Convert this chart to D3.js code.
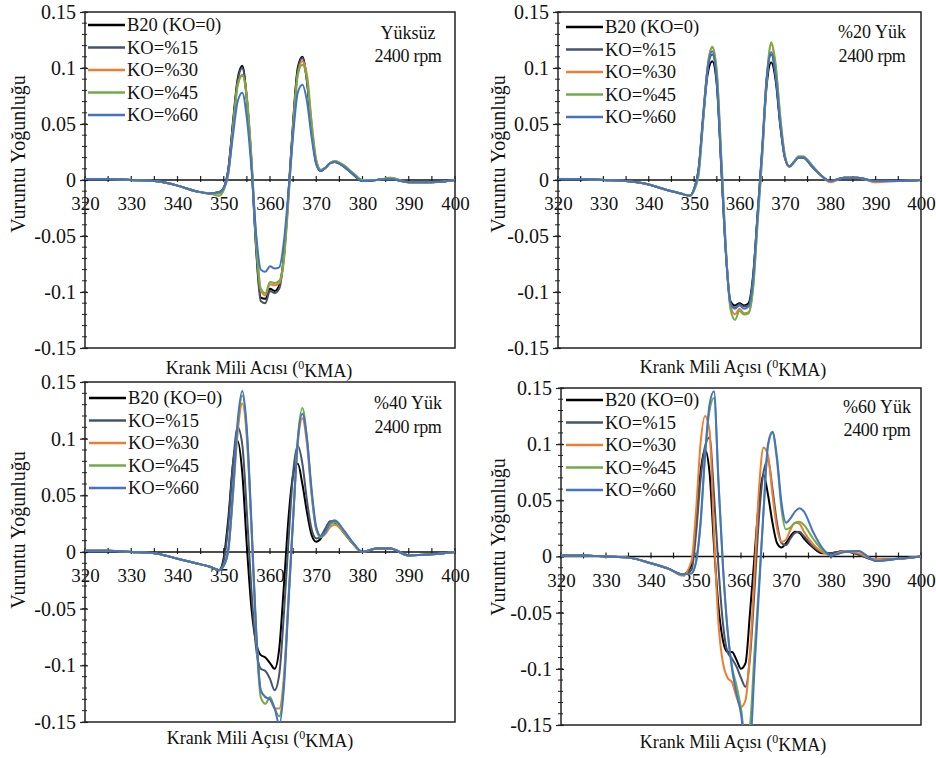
<!DOCTYPE html>
<html><head><meta charset="utf-8">
<script src="https://cdn.jsdelivr.net/npm/d3@7"></script>
<style>
body{margin:0;background:#fff}
svg{display:block}
text{font-family:"Liberation Serif","Times New Roman",serif;fill:#111}
</style>
</head><body><svg id="chart" width="936" height="758"></svg>
<script>
// ---------- DATA ----------
const angles = [320,325,330,335,340,344,347,349,350,351,352,353,354,355,356,357,358,359,360,361,362,363,364,365,366,367,368,369,370,371,372,373,374,376,378,380,383,386,390,395,400];

const seriesNames  = ['B20 (KO=0)','KO=%15','KO=%30','KO=%45','KO=%60'];
const seriesColors = ['#000000','#44546A','#ED7D31','#70AD47','#4472C4'];

const loadLabels = ['Yüksüz','%20 Yük','%40 Yük','%60 Yük'];
const speedLabel = '2400 rpm';
const yTitle = 'Vuruntu Yoğunluğu';
const xTitlePrefixes = ['Krank Mili Acısı (','Krank Mili Açısı (','Krank Mili Açısı (','Krank Mili Açısı ('];
const xTitleSup = '0';
const xTitleSuffix = 'KMA)';

const xTicks = [320,330,340,350,360,370,380,390,400];
const yTicks = [0.15,0.1,0.05,0,-0.05,-0.1,-0.15];
const yTickLabels = ['0.15','0.1','0.05','0','-0.05','-0.1','-0.15'];

// Panel 1: Yüksüz
const p1_B20 = [0.001,0.001,0.000,-0.001,-0.005,-0.010,-0.012,-0.011,-0.007,0.010,0.052,0.090,0.102,0.072,0.015,-0.060,-0.105,-0.106,-0.097,-0.099,-0.094,-0.068,-0.012,0.052,0.100,0.110,0.088,0.045,0.015,0.008,0.011,0.015,0.016,0.012,0.005,-0.001,0.000,0.001,-0.002,-0.002,0.000];
const p1_KO15 = [0.001,0.001,0.000,-0.001,-0.005,-0.010,-0.012,-0.011,-0.007,0.010,0.050,0.088,0.100,0.072,0.015,-0.062,-0.108,-0.110,-0.099,-0.101,-0.097,-0.068,-0.012,0.050,0.098,0.109,0.088,0.045,0.015,0.008,0.011,0.015,0.016,0.012,0.005,-0.001,0.000,0.001,-0.002,-0.002,0.000];
const p1_KO30 = [0.001,0.001,0.000,-0.001,-0.005,-0.010,-0.012,-0.012,-0.008,0.006,0.045,0.085,0.094,0.075,0.020,-0.052,-0.098,-0.103,-0.093,-0.094,-0.092,-0.072,-0.018,0.045,0.094,0.106,0.094,0.052,0.018,0.009,0.011,0.015,0.017,0.013,0.006,0.000,0.000,0.002,-0.002,-0.002,0.000];
const p1_KO45 = [0.001,0.001,0.000,-0.001,-0.005,-0.010,-0.012,-0.014,-0.009,0.006,0.046,0.084,0.093,0.072,0.017,-0.055,-0.097,-0.101,-0.091,-0.092,-0.090,-0.070,-0.015,0.047,0.094,0.103,0.090,0.050,0.017,0.009,0.011,0.015,0.017,0.013,0.006,0.000,0.000,0.002,-0.002,-0.002,0.000];
const p1_KO60 = [0.001,0.001,0.000,-0.001,-0.005,-0.010,-0.012,-0.011,-0.007,0.008,0.040,0.070,0.078,0.055,0.010,-0.048,-0.080,-0.082,-0.077,-0.079,-0.078,-0.055,-0.010,0.040,0.078,0.085,0.070,0.038,0.014,0.008,0.011,0.015,0.016,0.012,0.005,-0.001,0.000,0.001,-0.002,-0.002,0.000];

// Panel 2: %20 Yük
const p2_B20 = [0.001,0.001,0.000,-0.001,-0.004,-0.009,-0.012,-0.014,-0.008,0.010,0.055,0.095,0.106,0.085,0.010,-0.065,-0.108,-0.112,-0.110,-0.112,-0.110,-0.085,-0.030,0.025,0.085,0.105,0.088,0.048,0.020,0.012,0.016,0.020,0.020,0.012,0.004,-0.001,0.002,0.002,-0.001,-0.001,0.000];
const p2_KO15 = [0.001,0.001,0.000,-0.001,-0.004,-0.009,-0.012,-0.014,-0.008,0.010,0.058,0.100,0.112,0.090,0.012,-0.065,-0.110,-0.114,-0.111,-0.113,-0.112,-0.088,-0.030,0.028,0.090,0.112,0.092,0.050,0.020,0.012,0.016,0.020,0.020,0.012,0.004,-0.001,0.002,0.002,-0.001,-0.001,0.000];
const p2_KO30 = [0.001,0.001,0.000,-0.001,-0.004,-0.009,-0.012,-0.014,-0.009,0.006,0.055,0.102,0.118,0.095,0.018,-0.062,-0.112,-0.120,-0.115,-0.119,-0.118,-0.095,-0.036,0.022,0.090,0.121,0.100,0.055,0.022,0.012,0.016,0.021,0.021,0.013,0.004,-0.002,0.002,0.002,-0.002,-0.001,0.000];
const p2_KO45 = [0.001,0.001,0.000,-0.001,-0.004,-0.009,-0.012,-0.014,-0.009,0.005,0.053,0.102,0.119,0.097,0.020,-0.060,-0.115,-0.125,-0.117,-0.120,-0.119,-0.097,-0.038,0.020,0.090,0.123,0.102,0.056,0.022,0.012,0.016,0.021,0.021,0.013,0.004,-0.001,0.002,0.002,-0.001,-0.001,0.000];
const p2_KO60 = [0.001,0.001,0.000,-0.001,-0.004,-0.009,-0.012,-0.014,-0.008,0.010,0.058,0.100,0.115,0.088,0.012,-0.065,-0.110,-0.115,-0.112,-0.115,-0.113,-0.088,-0.030,0.028,0.092,0.114,0.092,0.050,0.020,0.012,0.016,0.020,0.020,0.012,0.004,-0.001,0.002,0.002,-0.001,-0.001,0.000];

// Panel 3: %40 Yük
const p3_B20 = [0.001,0.001,0.000,-0.001,-0.006,-0.010,-0.013,-0.016,-0.005,0.030,0.078,0.098,0.070,0.005,-0.050,-0.080,-0.091,-0.093,-0.098,-0.103,-0.085,-0.030,0.030,0.068,0.078,0.060,0.035,0.015,0.009,0.012,0.020,0.027,0.026,0.017,0.007,0.000,0.003,0.003,-0.003,-0.002,0.000];
const p3_KO15 = [0.001,0.001,0.000,-0.001,-0.006,-0.010,-0.013,-0.016,-0.008,0.025,0.078,0.110,0.095,0.035,-0.035,-0.085,-0.103,-0.105,-0.112,-0.122,-0.108,-0.055,0.010,0.070,0.094,0.078,0.045,0.020,0.012,0.014,0.021,0.027,0.027,0.018,0.007,0.000,0.003,0.003,-0.003,-0.002,0.000];
const p3_KO30 = [0.001,0.001,0.000,-0.001,-0.006,-0.010,-0.013,-0.016,-0.012,0.002,0.050,0.105,0.131,0.100,0.020,-0.070,-0.122,-0.128,-0.130,-0.138,-0.138,-0.110,-0.040,0.030,0.095,0.118,0.095,0.050,0.020,0.013,0.016,0.022,0.024,0.017,0.007,0.000,0.003,0.003,-0.003,-0.002,0.000];
const p3_KO45 = [0.001,0.001,0.000,-0.001,-0.006,-0.010,-0.013,-0.016,-0.012,0.002,0.052,0.110,0.138,0.105,0.022,-0.072,-0.128,-0.134,-0.128,-0.138,-0.145,-0.115,-0.042,0.030,0.100,0.127,0.100,0.052,0.020,0.013,0.017,0.024,0.026,0.018,0.007,0.000,0.003,0.003,-0.003,-0.002,0.000];
const p3_KO60 = [0.001,0.001,0.000,-0.001,-0.006,-0.010,-0.013,-0.016,-0.012,0.003,0.055,0.115,0.142,0.108,0.025,-0.068,-0.122,-0.128,-0.130,-0.138,-0.152,-0.120,-0.045,0.028,0.098,0.122,0.100,0.055,0.022,0.014,0.018,0.026,0.028,0.019,0.008,0.000,0.003,0.003,-0.003,-0.002,0.000];

// Panel 4: %60 Yük
const p4_B20 = [0.001,0.001,0.000,-0.001,-0.006,-0.011,-0.016,-0.008,0.030,0.075,0.095,0.075,0.010,-0.045,-0.075,-0.085,-0.085,-0.092,-0.100,-0.095,-0.050,0.000,0.050,0.073,0.055,0.030,0.012,0.008,0.012,0.018,0.022,0.021,0.016,0.008,0.003,0.003,0.005,0.002,-0.003,-0.002,0.000];
const p4_KO15 = [0.001,0.001,0.000,-0.001,-0.006,-0.011,-0.016,-0.012,0.020,0.068,0.098,0.106,0.055,-0.010,-0.060,-0.085,-0.091,-0.098,-0.108,-0.116,-0.090,-0.030,0.035,0.075,0.086,0.060,0.030,0.012,0.010,0.016,0.021,0.022,0.018,0.009,0.004,0.003,0.005,0.002,-0.003,-0.002,0.000];
const p4_KO30 = [0.001,0.001,0.000,-0.001,-0.006,-0.011,-0.017,-0.004,0.040,0.100,0.125,0.112,0.020,-0.060,-0.095,-0.108,-0.112,-0.125,-0.134,-0.128,-0.085,-0.015,0.060,0.097,0.090,0.055,0.025,0.013,0.015,0.024,0.030,0.029,0.022,0.011,0.004,0.001,0.005,0.003,-0.003,-0.002,0.000];
const p4_KO45 = [0.001,0.001,0.000,-0.001,-0.006,-0.011,-0.016,-0.015,-0.005,0.028,0.088,0.130,0.141,0.068,-0.008,-0.065,-0.098,-0.115,-0.135,-0.165,-0.150,-0.085,-0.025,0.040,0.098,0.110,0.085,0.042,0.024,0.026,0.030,0.031,0.028,0.016,0.006,0.001,0.004,0.005,-0.004,-0.002,0.000];
const p4_KO60 = [0.001,0.001,0.000,-0.001,-0.006,-0.011,-0.016,-0.015,-0.005,0.030,0.090,0.135,0.147,0.065,-0.010,-0.065,-0.100,-0.122,-0.140,-0.170,-0.168,-0.100,-0.030,0.040,0.100,0.111,0.088,0.048,0.030,0.034,0.040,0.043,0.040,0.022,0.008,0.001,0.004,0.005,-0.004,-0.002,0.000];

const panelSeries = [
  [p1_B20,p1_KO15,p1_KO30,p1_KO45,p1_KO60],
  [p2_B20,p2_KO15,p2_KO30,p2_KO45,p2_KO60],
  [p3_B20,p3_KO15,p3_KO30,p3_KO45,p3_KO60],
  [p4_B20,p4_KO15,p4_KO30,p4_KO45,p4_KO60]
];

// ---------- LAYOUT ----------
const layout = [
  {l:85, r:455, t:12,  b:348, yTX:18,  yTY:154, xTX:259, xTY:368, legX:88,  legY:25,  annX:408, annY:[33,56]},
  {l:558,r:921, t:12,  b:348, yTX:498, yTY:154, xTX:733, xTY:367, legX:566, legY:27,  annX:872, annY:[32,56]},
  {l:85, r:455, t:382, b:722, yTX:18,  yTY:530, xTX:260, xTY:738, legX:89,  legY:398, annX:408, annY:[403,427]},
  {l:561,r:921, t:388, b:725, yTX:498, yTY:537, xTX:733, xTY:742, legX:566, legY:400, annX:877, annY:[407,430]}
];

const svg = d3.select('#chart');
const defs = svg.append('defs');

layout.forEach((L, pi) => {
  const x = d3.scaleLinear().domain([320,400]).range([L.l, L.r]);
  const y = d3.scaleLinear().domain([-0.15,0.15]).range([L.b, L.t]);
  const g = svg.append('g');

  defs.append('clipPath').attr('id','clip'+pi)
    .append('rect').attr('x',L.l).attr('y',L.t).attr('width',L.r-L.l).attr('height',L.b-L.t);

  // y axis: major ticks with labels
  const yAxis = d3.axisLeft(y).tickValues(yTicks)
    .tickFormat((d,i)=>yTickLabels[i]).tickSizeInner(5).tickSizeOuter(0).tickPadding(4);
  const ya = g.append('g').attr('transform',`translate(${L.l},0)`).call(yAxis);
  ya.select('.domain').remove();
  ya.selectAll('text').style('font-size','20px').style('font-family','"Liberation Serif","Times New Roman",serif').attr('fill','#111');
  ya.selectAll('line').attr('stroke','#222').attr('x2',-5).attr('x1',3).attr('stroke-width',1.2);

  // y minor ticks
  const minor = d3.range(-15,16).map(i=>i/100);
  g.append('g').selectAll('line').data(minor).join('line')
    .attr('x1',L.l-3).attr('x2',L.l+2)
    .attr('y1',d=>y(d)).attr('y2',d=>y(d))
    .attr('stroke','#222').attr('stroke-width',1);

  // x axis labels at zero line
  const xAxis = d3.axisBottom(x).tickValues(xTicks).tickSize(0).tickPadding(17).tickFormat(d3.format('d'));
  const xa = g.append('g').attr('transform',`translate(0,${y(0)})`).call(xAxis);
  xa.select('.domain').remove();
  xa.selectAll('text').style('font-size','19px').style('font-family','"Liberation Serif","Times New Roman",serif').attr('fill','#111');

  // x small ticks every 5
  g.append('g').selectAll('line').data(d3.range(320,401,5)).join('line')
    .attr('x1',d=>x(d)).attr('x2',d=>x(d))
    .attr('y1',y(0)-4).attr('y2',y(0)+2)
    .attr('stroke','#222').attr('stroke-width',1.2);

  // frame & zero line
  g.append('rect').attr('x',L.l).attr('y',L.t).attr('width',L.r-L.l).attr('height',L.b-L.t)
    .attr('fill','none').attr('stroke','#222').attr('stroke-width',1.5);
  g.append('line').attr('x1',L.l).attr('x2',L.r).attr('y1',y(0)).attr('y2',y(0))
    .attr('stroke','#111').attr('stroke-width',1.6);

  // series lines
  const line = d3.line().x((d,i)=>x(angles[i])).y(d=>y(d)).curve(d3.curveMonotoneX);
  const lg = g.append('g').attr('clip-path',`url(#clip${pi})`);
  panelSeries[pi].forEach((vals, si) => {
    lg.append('path').datum(vals).attr('d',line)
      .attr('fill','none').attr('stroke',seriesColors[si]).attr('stroke-width',2)
      .attr('stroke-linejoin','round');
  });

  // legend
  seriesNames.forEach((nm, si) => {
    const yy = L.legY + si*22.5;
    g.append('line').attr('x1',L.legX).attr('x2',L.legX+37).attr('y1',yy).attr('y2',yy)
      .attr('stroke',seriesColors[si]).attr('stroke-width',2.4);
    g.append('text').attr('x',L.legX+39).attr('y',yy).attr('dy','0.35em')
      .style('font-size','18.5px').text(nm);
  });

  // annotation
  g.append('text').attr('x',L.annX).attr('y',L.annY[0]).attr('dy','0.35em')
    .attr('text-anchor','middle').style('font-size','18px').text(loadLabels[pi]);
  g.append('text').attr('x',L.annX).attr('y',L.annY[1]).attr('dy','0.35em')
    .attr('text-anchor','middle').style('font-size','18px').style('letter-spacing','-0.3px').text(speedLabel);

  // axis titles
  g.append('text').attr('transform',`translate(${L.yTX},${L.yTY}) rotate(-90)`)
    .attr('text-anchor','middle').attr('dy','0.35em').style('font-size','20px').text(yTitle);
  const xt = g.append('text').attr('x',L.xTX).attr('y',L.xTY).attr('dy','0.35em')
    .attr('text-anchor','middle').style('font-size','18px');
  xt.append('tspan').text(xTitlePrefixes[pi]);
  xt.append('tspan').attr('dy','-0.45em').style('font-size','12px').text(xTitleSup);
  xt.append('tspan').attr('dy','0.45em').text(xTitleSuffix);
});
</script>
</body></html>
